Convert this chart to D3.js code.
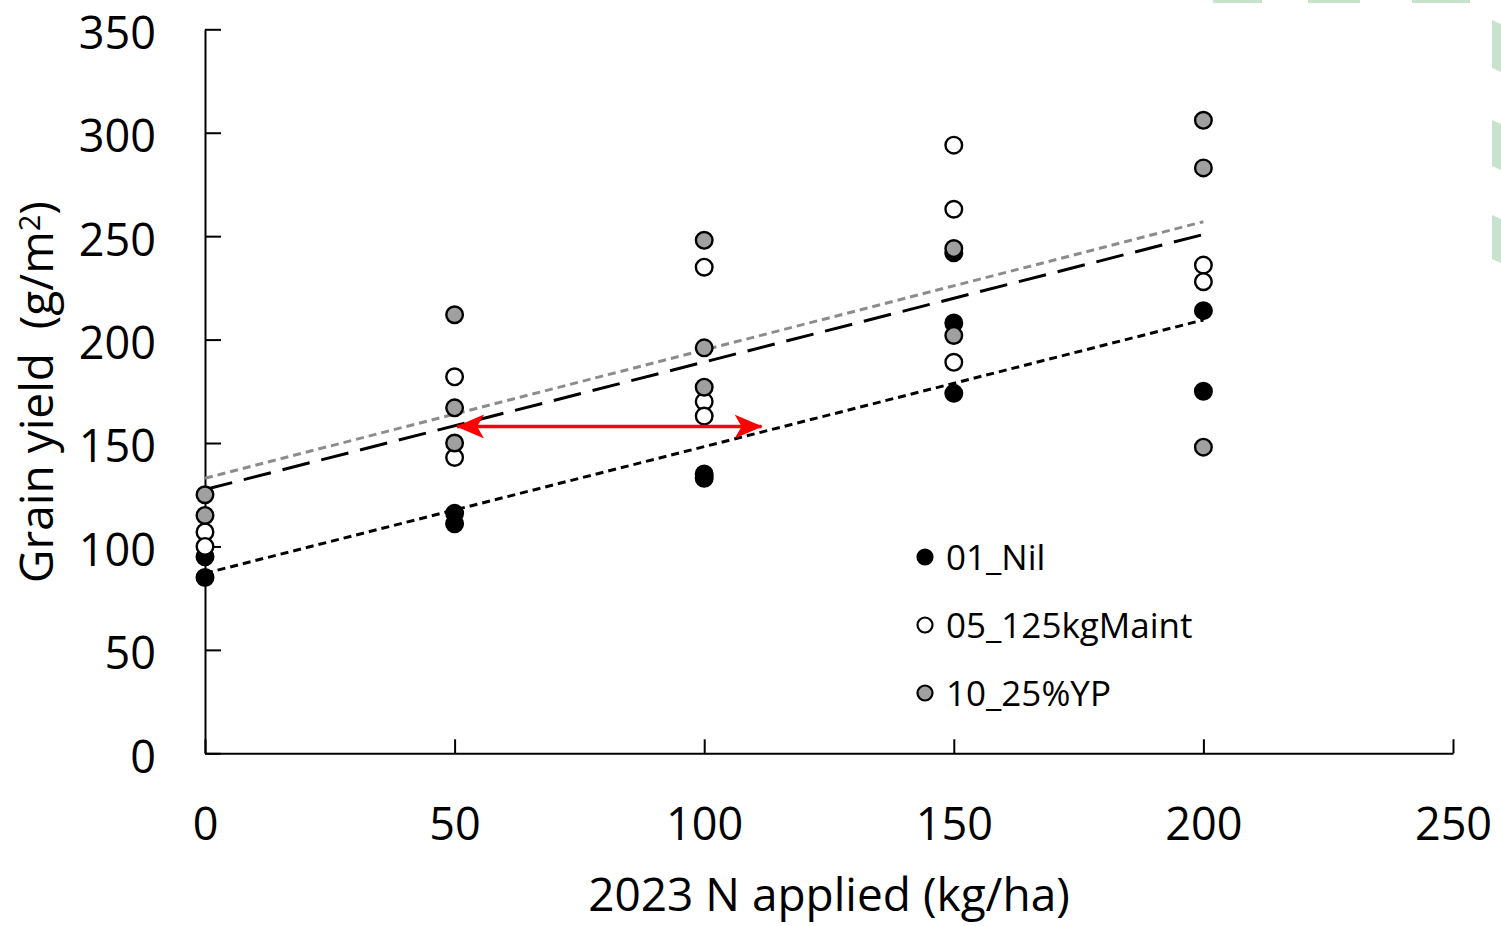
<!DOCTYPE html>
<html>
<head>
<meta charset="utf-8">
<script src="https://cdn.jsdelivr.net/npm/d3@7"></script>
<style>
  html, body { margin: 0; padding: 0; background: #fff; }
  svg { display: block; font-family: "Open Sans", sans-serif; }
</style>
</head>
<body>
<svg id="chart" width="1501" height="926"></svg>
<script>
// ---- data ----
const nApplied = [0, 50, 100, 150, 200];
const seriesNames = ["01_Nil", "05_125kgMaint", "10_25%YP"];
// grain yield values (g/m2) per N level, one inner array per N level
const nilYield   = [[95, 85], [116, 111], [135, 133], [242, 208, 174], [214, 175]];
const maintYield = [[107, 100], [182, 143], [235, 170, 163], [294, 263, 189], [236, 228]];
const ypYield    = [[125, 115], [212, 167, 150], [248, 196, 177], [244, 202], [306, 283, 148]];
// linear trend lines (intercept, slope) for each series
const trendIntercept = [87, 127.5, 133];
const trendSlope     = [0.6125, 0.6165, 0.62];
const trendRange     = [0, 200];
// red double arrow (N equivalence)
const arrowYield = 158;
const arrowN     = [50.5, 111.5];
// ticks
const xTicks = [0, 50, 100, 150, 200, 250];
const yTicks = [0, 50, 100, 150, 200, 250, 300, 350];

// ---- layout ----
const svg = d3.select("#chart");
const x = d3.scaleLinear().domain([0, 250]).range([205, 1453]);
const y = d3.scaleLinear().domain([0, 350]).range([753.3, 29.3]);

const fills = ["#000000", "#ffffff", "#a0a0a0"];
const allSeries = [nilYield, maintYield, ypYield];

// decorative green fragments at top-right (cropped background)
const deco = svg.append("g").attr("fill", "#c8e3cd");
[[1213, 1262], [1308, 1360], [1412, 1470]].forEach(([a, b]) =>
  deco.append("rect").attr("x", a).attr("y", 0).attr("width", b - a).attr("height", 3));
[[20, 72], [120, 170], [215, 263]].forEach(([a, b]) =>
  deco.append("path").attr("d", `M1492,${a} L1501,${a + 4} L1501,${b} L1492,${b - 4} Z`));

// axes
const xAxis = svg.append("g").attr("transform", `translate(0,${y(0)})`)
  .call(d3.axisBottom(x).tickValues(xTicks).tickSize(-14).tickSizeOuter(0));
const yAxis = svg.append("g").attr("transform", `translate(${x(0)},0)`)
  .call(d3.axisLeft(y).tickValues(yTicks).tickSize(-16).tickSizeOuter(0));
[xAxis, yAxis].forEach(g => {
  g.selectAll("path, line").attr("stroke", "#000").attr("stroke-width", 2);
  g.selectAll("text").attr("fill", "#000").style("font-size", "45px")
    .style("font-family", "'Open Sans', sans-serif");
});
xAxis.selectAll("text").attr("y", 87).attr("dy", 0);
yAxis.selectAll("text").attr("x", -49).attr("dy", "0.42em");

// axis titles
svg.append("text").attr("x", 829).attr("y", 911).attr("text-anchor", "middle")
  .style("font-size", "46px").text("2023 N applied (kg/ha)");
const yt = svg.append("text").attr("transform", "translate(53,392) rotate(-90)")
  .attr("text-anchor", "middle").style("font-size", "46px").attr("xml:space", "preserve");
yt.append("tspan").text("Grain yield  (g/m");
yt.append("tspan").attr("dy", "-0.45em").style("font-size", "29px").text("2");
yt.append("tspan").attr("dy", "0.29em").text(")");

function drawPoints() {
  allSeries.forEach((s, i) => {
    const pts = [];
    s.forEach((vals, k) => vals.forEach(v => pts.push([nApplied[k], v])));
    svg.append("g").selectAll("circle").data(pts).join("circle")
      .attr("cx", d => x(d[0])).attr("cy", d => y(d[1])).attr("r", 8.3)
      .attr("fill", fills[i]).attr("stroke", "#000").attr("stroke-width", 2.4);
  });
}

// trend lines
const dashes = ["8,5", "28,12", "8,5"];
const lineColors = ["#000", "#000", "#8c8c8c"];
const line = d3.line().x(d => x(d[0])).y(d => y(d[1]));
trendIntercept.forEach((b, i) => {
  const pts = trendRange.map(n => [n, b + trendSlope[i] * n]);
  svg.append("path").attr("d", line(pts)).attr("fill", "none")
    .attr("stroke", lineColors[i]).attr("stroke-width", 3).attr("stroke-dasharray", dashes[i]);
});

// points over the lines
drawPoints();

// red double arrow
const defs = svg.append("defs");
defs.append("marker").attr("id", "ah").attr("viewBox", "0 0 28 24")
  .attr("refX", 27).attr("refY", 12).attr("markerWidth", 28).attr("markerHeight", 24)
  .attr("markerUnits", "userSpaceOnUse").attr("orient", "auto-start-reverse")
  .append("path").attr("d", "M0,0 L28,12 L0,24 L7,12 Z").attr("fill", "#ff0000");
svg.append("line")
  .attr("x1", x(arrowN[0])).attr("x2", x(arrowN[1]))
  .attr("y1", y(arrowYield)).attr("y2", y(arrowYield))
  .attr("stroke", "#ff0000").attr("stroke-width", 3.5)
  .attr("marker-start", "url(#ah)").attr("marker-end", "url(#ah)");

// legend
const leg = svg.append("g");
seriesNames.forEach((name, i) => {
  const cy = 557 + i * 68;
  leg.append("circle").attr("cx", 925).attr("cy", cy).attr("r", 7.5)
    .attr("fill", fills[i]).attr("stroke", "#000").attr("stroke-width", 2.2);
  leg.append("text").attr("x", 946).attr("y", cy + 13).style("font-size", "35px")
    .attr("fill", "#000").text(name);
});
</script>
</body>
</html>
